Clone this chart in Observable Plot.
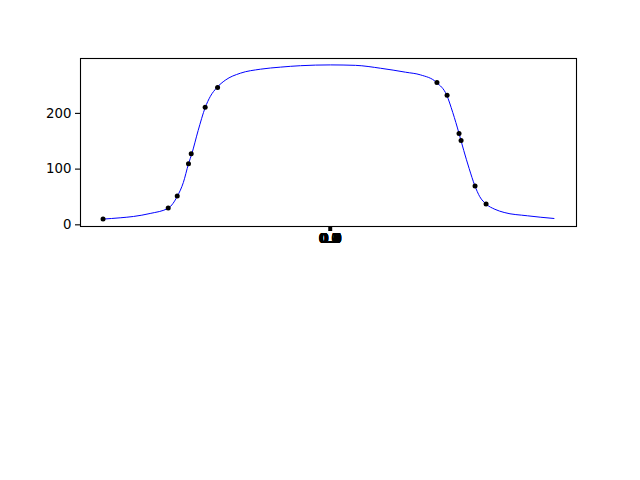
<!DOCTYPE html>
<html>
<head>
<meta charset="utf-8">
<script src="https://cdn.jsdelivr.net/npm/d3@7"></script>
<script src="https://cdn.jsdelivr.net/npm/@observablehq/plot@0.6"></script>
<style>
  html, body { margin: 0; padding: 0; background: #fff; }
  #chart svg { display: block; }
</style>
</head>
<body>
<div id="chart"></div>
<script>
// Fitted curve
const curveX = [-1.0, -0.924, -0.865, -0.791, -0.710, -0.670, -0.644, -0.621, -0.606, -0.578,
  -0.547, -0.524, -0.495, -0.458, -0.391, -0.302, -0.213, -0.124, 0.009, 0.120,
  0.231, 0.342, 0.409, 0.480, 0.524, 0.551, 0.579, 0.600, 0.624, 0.649,
  0.671, 0.699, 0.738, 0.779, 0.883, 1.0];
const curveY = [10.3, 12.6, 15.0, 20.4, 30.1, 51.7, 75.7, 109.4, 127.9, 169.4,
  210.3, 230.6, 246.3, 259.5, 272.1, 279.3, 283.0, 285.6, 287.0, 286.2,
  281.0, 273.9, 269.0, 255.3, 233.0, 201.8, 164.0, 133.3, 100.9, 70.3,
  50.5, 37.3, 27.9, 22.2, 16.2, 11.4];

// Measured points
const pointX = [-1.0, -0.711, -0.671, -0.621, -0.609, -0.547, -0.492,
  0.481, 0.526, 0.579, 0.588, 0.650, 0.699];
const pointY = [10.3, 30.1, 51.7, 109.4, 127.4, 210.8, 246.3,
  255.3, 232.4, 164.0, 151.4, 69.7, 37.3];

// Axis ticks (many ticks collapsed onto the same spot, as in the reference)
const yTicks = [0, 100, 200];
const xTickValues = [0.002, 0.0032, 0.0044, 0.0056, 0.0068, 0.008, 0.0092, 0.0104, 0.0116, 0.0128, 0.014];
const xTickLabels = ["0.0", "0.1", "0.2", "0.3", "0.4", "0.5", "0.6", "0.7", "0.8", "0.9", "1.0"];

const curve = curveX.map((x, i) => ({x, y: curveY[i]}));
const points = pointX.map((x, i) => ({x, y: pointY[i]}));
const xLabels = xTickValues.map((v, i) => ({v, label: xTickLabels[i]}));

const chart = Plot.plot({
  width: 640,
  height: 480,
  marginLeft: 80,
  marginRight: 64,
  marginTop: 58,
  marginBottom: 254,
  style: {fontFamily: "DejaVu Sans", fontSize: "13.3px", color: "black", background: "white"},
  x: {domain: [-1.1, 1.1]},
  y: {domain: [-3, 298.5]},
  marks: [
    Plot.axisY(yTicks, {tickSize: 5, tickPadding: 4, strokeWidth: 1.1, label: null, fontSize: 13.3}),
    Plot.axisX(xTickValues, {
      tickSize: 5, tickPadding: 2, strokeWidth: 1.1, label: null, fontSize: 13.3,
      tickFormat: (d) => xTickLabels[xTickValues.indexOf(d)]
    }),
    Plot.text(xLabels, {x: "v", text: "label", frameAnchor: "bottom", dy: 12, lineAnchor: "middle", fontSize: 13.3, fill: "black"}),
    Plot.line(curve, {x: "x", y: "y", stroke: "blue", strokeWidth: 1, curve: "monotone-x"}),
    Plot.dot(points, {x: "x", y: "y", r: 2.5, fill: "black", stroke: "none"}),
    Plot.frame({stroke: "black", strokeWidth: 1.1})
  ]
});
document.getElementById("chart").appendChild(chart);
</script>
</body>
</html>
